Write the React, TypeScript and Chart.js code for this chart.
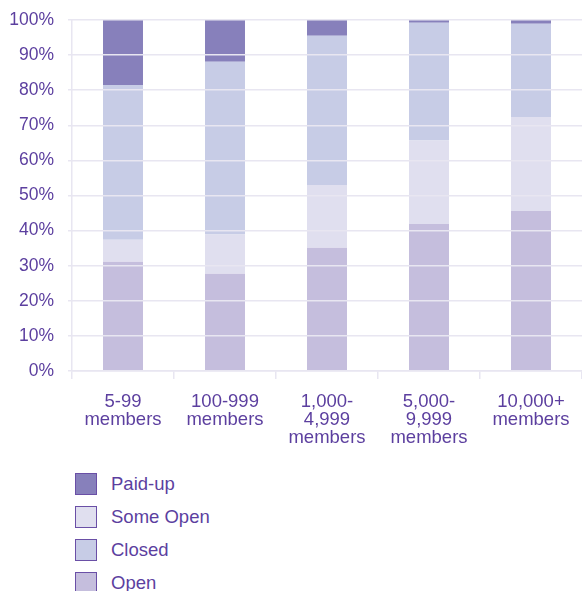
import React, { useEffect, useRef } from "react";
import { Chart, registerables } from "chart.js";

Chart.register(...registerables);

const categories: string[][] = [
  ["5-99", "members"],
  ["100-999", "members"],
  ["1,000-", "4,999", "members"],
  ["5,000-", "9,999", "members"],
  ["10,000+", "members"],
];
const openValues = [31.1, 27.7, 35.1, 41.9, 45.6];
const someOpenValues = [6.3, 11.2, 17.9, 23.8, 26.8];
const closedValues = [44.1, 49.2, 42.5, 33.5, 26.5];
const paidUpValues = [18.5, 11.9, 4.5, 0.8, 1.1];
const seriesNames = ["Open", "Some Open", "Closed", "Paid-up"];
const seriesColors = ["#c5bedd", "#e0dfef", "#c7cce6", "#8780bb"];
const legendOrder = ["Paid-up", "Some Open", "Closed", "Open"];

const TEXT = "#5c3f9f";
const GRID = "#e8e6f1";
const FONT = "'Liberation Sans', Arial, Helvetica, sans-serif";

export default function App() {
  const ref = useRef<HTMLCanvasElement | null>(null);

  useEffect(() => {
    if (!ref.current) return;
    const values = [openValues, someOpenValues, closedValues, paidUpValues];
    const chart = new Chart(ref.current, {
      type: "bar",
      data: {
        labels: categories,
        datasets: seriesNames.map((name, i) => ({
          label: name,
          data: values[i],
          backgroundColor: seriesColors[i],
          borderWidth: 0,
          barPercentage: 0.392,
          categoryPercentage: 1,
        })),
      },
      options: {
        animation: false,
        responsive: false,
        maintainAspectRatio: false,
        layout: { padding: { top: 20, right: 0, bottom: 0, left: 0 } },
        plugins: { legend: { display: false }, tooltip: { enabled: false } },
        scales: {
          x: {
            stacked: true,
            grid: {
              drawOnChartArea: true,
              drawTicks: true,
              tickLength: 8,
              color: (ctx: any) => (ctx.index === 0 ? GRID : "rgba(0,0,0,0)"),
              tickColor: GRID,
              lineWidth: 1.5,
            },
            border: { display: true, color: GRID, width: 1.5 },
            ticks: {
              color: TEXT,
              font: { family: FONT, size: 18.5, lineHeight: 0.97 },
              padding: 14,
              maxRotation: 0,
              autoSkip: false,
            },
            afterFit: (scale: any) => {
              scale.height = 79;
              scale.paddingLeft = 0;
              scale.paddingRight = 0;
            },
          },
          y: {
            stacked: true,
            min: 0,
            max: 100,
            grid: {
              color: GRID,
              lineWidth: 1.5,
              tickLength: 4,
              z: 1,
            },
            border: { display: false },
            ticks: {
              stepSize: 10,
              color: TEXT,
              font: { family: FONT, size: 17.5 },
              padding: 14,
              callback: (v: any) => v + "%",
            },
            afterFit: (scale: any) => {
              scale.width = 72;
              scale.paddingTop = 0;
              scale.paddingBottom = 0;
            },
          },
        },
      },
    });
    return () => chart.destroy();
  }, []);

  return (
    <div style={{ position: "absolute", left: 0, top: 0, width: 582, height: 591, background: "#fff", overflow: "hidden" }}>
      <canvas ref={ref} width={582} height={450} style={{ position: "absolute", left: 0, top: 0 }} />
      <div style={{ position: "absolute", left: 75, top: 473, fontFamily: FONT, fontSize: 18.5, color: TEXT }}>
        {legendOrder.map((name) => {
          const idx = seriesNames.indexOf(name);
          return (
            <div key={name} style={{ display: "flex", alignItems: "center", height: 22, marginBottom: 11 }}>
              <div
                style={{
                  width: 20,
                  height: 20,
                  background: seriesColors[idx],
                  border: "1.5px solid #6a4fa6",
                  marginRight: 14,
                }}
              />
              <span>{name}</span>
            </div>
          );
        })}
      </div>
    </div>
  );
}
